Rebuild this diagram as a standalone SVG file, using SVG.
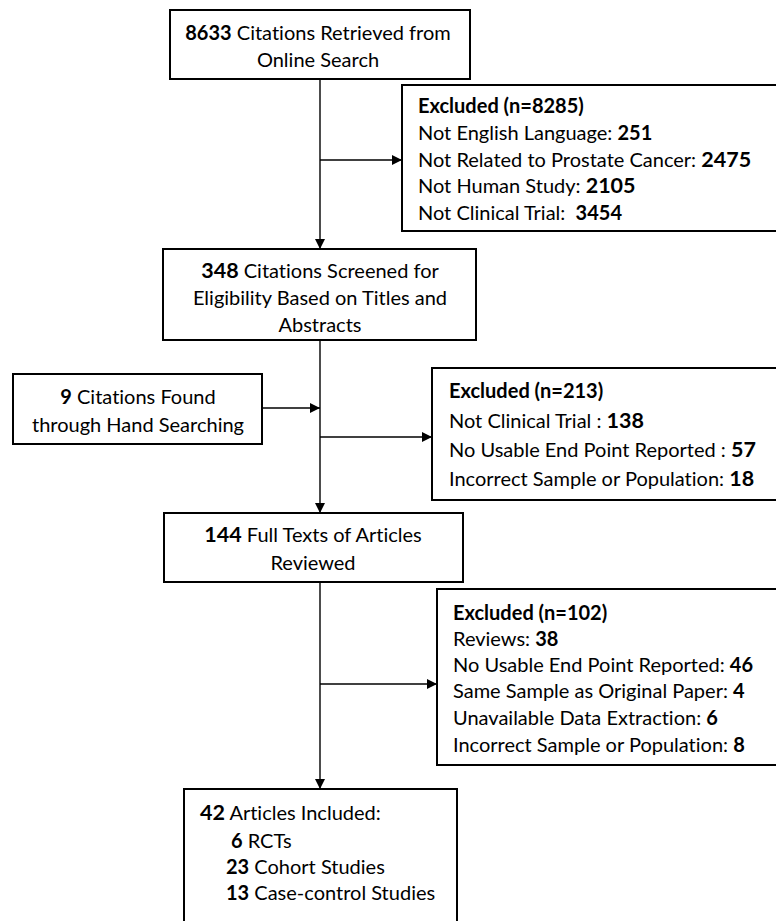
<svg xmlns="http://www.w3.org/2000/svg" width="776" height="921" viewBox="0 0 776 921">
<defs>
<style>
.box{fill:#fff;stroke:#000;stroke-width:2}
.t{font-family:Lato,"Open Sans","Liberation Sans",sans-serif;font-size:20px;fill:#000;font-variant-ligatures:none}
.c{text-anchor:middle}
.b{font-weight:bold}
.big{font-size:21.5px}
.ln{stroke:#000;stroke-width:1.4;fill:none}
</style>
<marker id="ah" viewBox="0 0 10 10" refX="10" refY="5" markerWidth="11" markerHeight="10" markerUnits="userSpaceOnUse" orient="auto">
<path d="M0,0 L10,5 L0,10 z" fill="#000"/>
</marker>
</defs>
<rect width="776" height="921" fill="#fff"/>
<g id="connectors">
<line class="ln" x1="320" y1="79" x2="320" y2="249" marker-end="url(#ah)"/>
<line class="ln" x1="320" y1="160" x2="402" y2="160" marker-end="url(#ah)"/>
<line class="ln" x1="320" y1="340" x2="320" y2="513" marker-end="url(#ah)"/>
<line class="ln" x1="262" y1="408" x2="320" y2="408" marker-end="url(#ah)"/>
<line class="ln" x1="320" y1="437" x2="432" y2="437" marker-end="url(#ah)"/>
<line class="ln" x1="320" y1="582" x2="320" y2="789" marker-end="url(#ah)"/>
<line class="ln" x1="320" y1="684" x2="437" y2="684" marker-end="url(#ah)"/>
</g>
<g id="n1">
<rect class="box" x="170" y="10" width="300" height="69"/>
<text class="t c" x="318" y="40"><tspan class="b">8633</tspan> Citations Retrieved from</text>
<text class="t c" x="318" y="67">Online Search</text>
</g>
<g id="ex1">
<rect class="box" x="402" y="85" width="380" height="146"/>
<text class="t" x="418" y="113"><tspan class="b">Excluded (n=8285)</tspan></text>
<text class="t" x="418" y="140">Not English Language: <tspan class="b">251</tspan></text>
<text class="t" x="418" y="167">Not Related to Prostate Cancer: <tspan class="b big">2475</tspan></text>
<text class="t" x="418" y="193">Not Human Study: <tspan class="b big">2105</tspan></text>
<text class="t" x="418" y="220" xml:space="preserve">Not Clinical Trial:  <tspan class="b">3454</tspan></text>
</g>
<g id="n2">
<rect class="box" x="163" y="249" width="313" height="91"/>
<text class="t c" x="320" y="278"><tspan class="b big">348</tspan> Citations Screened for</text>
<text class="t c" x="320" y="305">Eligibility Based on Titles and</text>
<text class="t c" x="320" y="332">Abstracts</text>
</g>
<g id="hand">
<rect class="box" x="13" y="374" width="249" height="70"/>
<text class="t c" x="138" y="404"><tspan class="b">9</tspan> Citations Found</text>
<text class="t c" x="138" y="432">through Hand Searching</text>
</g>
<g id="ex2">
<rect class="box" x="432" y="368" width="350" height="132"/>
<text class="t" x="449" y="398"><tspan class="b">Excluded (n=213)</tspan></text>
<text class="t" x="449" y="428">Not Clinical Trial : <tspan class="b big">138</tspan></text>
<text class="t" x="449" y="457">No Usable End Point Reported : <tspan class="b big">57</tspan></text>
<text class="t" x="449" y="486">Incorrect Sample or Population: <tspan class="b big">18</tspan></text>
</g>
<g id="n3">
<rect class="box" x="164" y="513" width="299" height="69"/>
<text class="t c" x="313" y="542"><tspan class="b big">144</tspan> Full Texts of Articles</text>
<text class="t c" x="313" y="570">Reviewed</text>
</g>
<g id="ex3">
<rect class="box" x="437" y="589" width="345" height="176"/>
<text class="t" x="453" y="620"><tspan class="b">Excluded (n=102)</tspan></text>
<text class="t" x="453" y="646">Reviews: <tspan class="b">38</tspan></text>
<text class="t" x="453" y="672">No Usable End Point Reported: <tspan class="b">46</tspan></text>
<text class="t" x="453" y="698">Same Sample as Original Paper: <tspan class="b">4</tspan></text>
<text class="t" x="453" y="725">Unavailable Data Extraction: <tspan class="b">6</tspan></text>
<text class="t" x="453" y="752">Incorrect Sample or Population: <tspan class="b">8</tspan></text>
</g>
<g id="n4">
<rect class="box" x="184" y="789" width="273" height="150"/>
<text class="t" x="200" y="820"><tspan class="b big">42</tspan> Articles Included:</text>
<text class="t" x="231" y="848"><tspan class="b">6</tspan> RCTs</text>
<text class="t" x="226" y="874"><tspan class="b">23</tspan> Cohort Studies</text>
<text class="t" x="226" y="900"><tspan class="b">13</tspan> Case-control Studies</text>
</g>
</svg>
